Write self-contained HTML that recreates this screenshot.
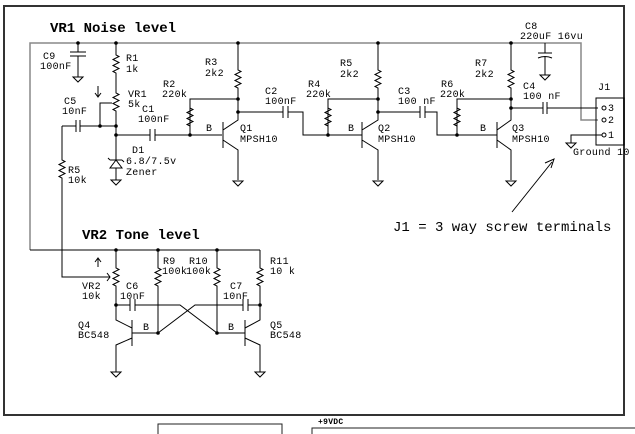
<!DOCTYPE html>
<html><head><meta charset="utf-8"><style>
body{margin:0;background:#fff;width:635px;height:434px;overflow:hidden}
svg{display:block}
text{font-family:"Liberation Mono",monospace;font-size:10px;letter-spacing:0.3px;fill:#000}
.t{font-size:14px;font-weight:bold;letter-spacing:0}
.n{font-size:14px;font-weight:normal;letter-spacing:0}
</style></head><body>
<svg width="635" height="434" viewBox="0 0 635 434" xmlns="http://www.w3.org/2000/svg">
<g fill="none" stroke="#000" stroke-width="1">
<polyline points="4,416 4,6 624,6 624,415 4,415" stroke="#333" stroke-width="2"/>
<rect x="158" y="424" width="124" height="12" stroke="#222"/>
<polyline points="312,436 312,428 635,428" stroke="#222"/>
<polyline points="30,250 30,43 581,43 581,120 598,120" stroke="#888" stroke-width="1.5"/>
<polyline points="30,250 260,250"/>
<path d="M78,43V52M70,52H86M70,56H86M78,56V77M73,77H83L78,82Z"/>
<path d="M116,43V55l3,1.5l-6,3l6,3l-6,3l6,3l-6,3l3,1.5V93l3,1.5l-6,3l6,3l-6,3l6,3l-6,3l3,1.5V160"/>
<path d="M100,126V103H112M98,86V96M95,93l3,4l3,-4"/>
<path d="M62,126H76M76,120V132M80,120V132M80,126H116"/>
<path d="M62,126V160l3,1.5l-6,3l6,3l-6,3l6,3l-6,3l3,1.5V277H110M107,273l3,4l-3,4"/>
<path d="M110,160H122M108,158l2,2M122,160l2,2M116,160l-6,8H122Z M116,168V180M111,180H121L116,185Z"/>
<path d="M116,135H150M150,129V141M155,129V141M155,135H222"/>
<path d="M190,135V108l3,1.5l-6,3l6,3l-6,3l6,3l-6,3l3,1.5M190,108V99H238M238,43V70l3,1.5l-6,3l6,3l-6,3l6,3l-6,3l3,1.5V112"/>
<path d="M223,122V148M223,130L238,120V112M223,140L238,150V180M233,181H243L238,186Z"/>
<path d="M238,112H283M283,106V118M288,106V118M288,112H303V135H362"/>
<path d="M328,135V108l3,1.5l-6,3l6,3l-6,3l6,3l-6,3l3,1.5M328,108V99H378M378,43V70l3,1.5l-6,3l6,3l-6,3l6,3l-6,3l3,1.5V112"/>
<path d="M362,122V148M362,130L378,120V112M362,140L378,150V180M373,181H383L378,186Z"/>
<path d="M378,112H420M420,106V118M425,106V118M425,112H437V135H497"/>
<path d="M457,135V108l3,1.5l-6,3l6,3l-6,3l6,3l-6,3l3,1.5M457,108V99H511M511,43V70l3,1.5l-6,3l6,3l-6,3l6,3l-6,3l3,1.5V112"/>
<path d="M497,122V148M497,130L511,120V112M497,140L511,150V180M506,181H516L511,186Z" />
<path d="M511,108H543M543,102V114M547,102V114M547,108H598"/>
<path d="M545,43V53M538,53H552M538,58Q545,55 552,58M545,57V75M540,75H550L545,80Z"/>
<rect x="596" y="98" width="28" height="47"/>
<circle cx="604" cy="108" r="2"/><circle cx="604" cy="120" r="2"/><circle cx="604" cy="135" r="2"/>
<path d="M602,135H571V143M566,143H576L571,148Z"/>
<path d="M512,212L552,162M545,163L554,159L551,168"/>
<path d="M116,250V268l3,1.5l-6,3l6,3l-6,3l6,3l-6,3l3,1.5V320L132,328"/>
<path d="M98,267V259M95,262l3,-4l3,4"/>
<path d="M158,250V268l3,1.5l-6,3l6,3l-6,3l6,3l-6,3l3,1.5V333H132M217,250V268l3,1.5l-6,3l6,3l-6,3l6,3l-6,3l3,1.5V333H245M260,250V268l3,1.5l-6,3l6,3l-6,3l6,3l-6,3l3,1.5V320L245,328"/>
<path d="M116,305H130M130,299V311M135,299V311M135,305H180L217,333M158,333L195,305H243M243,299V311M248,299V311M248,305H260"/>
<path d="M132,320V346M132,338L116,345V372M111,372H121L116,377Z"/>
<path d="M245,320V346M245,338L260,345V372M255,372H265L260,377Z"/>
</g>
<g fill="#000">
<circle cx="78" cy="43" r="1.8"/><circle cx="116" cy="43" r="1.8"/><circle cx="238" cy="43" r="1.8"/><circle cx="378" cy="43" r="1.8"/><circle cx="511" cy="43" r="1.8"/>
<circle cx="100" cy="126" r="1.8"/><circle cx="116" cy="126" r="1.8"/><circle cx="116" cy="135" r="1.8"/><circle cx="190" cy="135" r="1.8"/>
<circle cx="238" cy="99" r="1.8"/><circle cx="238" cy="112" r="1.8"/><circle cx="328" cy="135" r="1.8"/><circle cx="378" cy="99" r="1.8"/><circle cx="378" cy="112" r="1.8"/>
<circle cx="457" cy="135" r="1.8"/><circle cx="511" cy="99" r="1.8"/><circle cx="511" cy="108" r="1.8"/>
<circle cx="116" cy="250" r="1.8"/><circle cx="158" cy="250" r="1.8"/><circle cx="217" cy="250" r="1.8"/>
<circle cx="116" cy="305" r="1.8"/><circle cx="260" cy="305" r="1.8"/><circle cx="158" cy="333" r="1.8"/><circle cx="217" cy="333" r="1.8"/>
</g>
<text class="t" x="50" y="32">VR1 Noise level</text>
<text x="43" y="59">C9</text><text x="40" y="69">100nF</text>
<text x="126" y="61">R1</text><text x="126" y="72">1k</text>
<text x="128" y="97">VR1</text><text x="128" y="107">5k</text>
<text x="64" y="104">C5</text><text x="62" y="114">10nF</text>
<text x="142" y="112">C1</text><text x="138" y="122">100nF</text>
<text x="132" y="153">D1</text><text x="126" y="164">6.8/7.5v</text><text x="126" y="175">Zener</text>
<text x="68" y="173">R5</text><text x="68" y="183">10k</text>
<text x="205" y="65">R3</text><text x="205" y="76">2k2</text>
<text x="163" y="87">R2</text><text x="162" y="97">220k</text>
<text x="206" y="131">B</text><text x="240" y="131">Q1</text><text x="240" y="142">MPSH10</text>
<text x="265" y="94">C2</text><text x="265" y="104">100nF</text>
<text x="308" y="87">R4</text><text x="306" y="97">220k</text>
<text x="340" y="66">R5</text><text x="340" y="77">2k2</text>
<text x="348" y="131">B</text><text x="378" y="131">Q2</text><text x="378" y="142">MPSH10</text>
<text x="398" y="94">C3</text><text x="398" y="104">100 nF</text>
<text x="441" y="87">R6</text><text x="440" y="97">220k</text>
<text x="475" y="66">R7</text><text x="475" y="77">2k2</text>
<text x="480" y="131">B</text><text x="512" y="131">Q3</text><text x="512" y="142">MPSH10</text>
<text x="523" y="89">C4</text><text x="523" y="99">100 nF</text>
<text x="525" y="29">C8</text><text x="520" y="39">220uF 16vu</text>
<text x="598" y="90">J1</text>
<text x="608" y="111">3</text><text x="608" y="123">2</text><text x="608" y="138">1</text>
<text x="573" y="155">Ground 10</text>
<text class="n" x="393" y="231">J1 = 3 way screw terminals</text>
<text class="t" x="82" y="239">VR2 Tone level</text>
<text x="82" y="289">VR2</text><text x="82" y="299">10k</text>
<text x="126" y="289">C6</text><text x="120" y="299">10nF</text>
<text x="163" y="264">R9</text><text x="162" y="274">100k</text>
<text x="189" y="264">R10</text><text x="186" y="274">100k</text>
<text x="230" y="289">C7</text><text x="223" y="299">10nF</text>
<text x="270" y="264">R11</text><text x="270" y="274">10 k</text>
<text x="143" y="330">B</text><text x="228" y="330">B</text>
<text x="78" y="328">Q4</text><text x="78" y="338">BC548</text>
<text x="270" y="328">Q5</text><text x="270" y="338">BC548</text>
<text x="318" y="424" style="font-size:8px;font-weight:bold">+9VDC</text>
</svg>
</body></html>
